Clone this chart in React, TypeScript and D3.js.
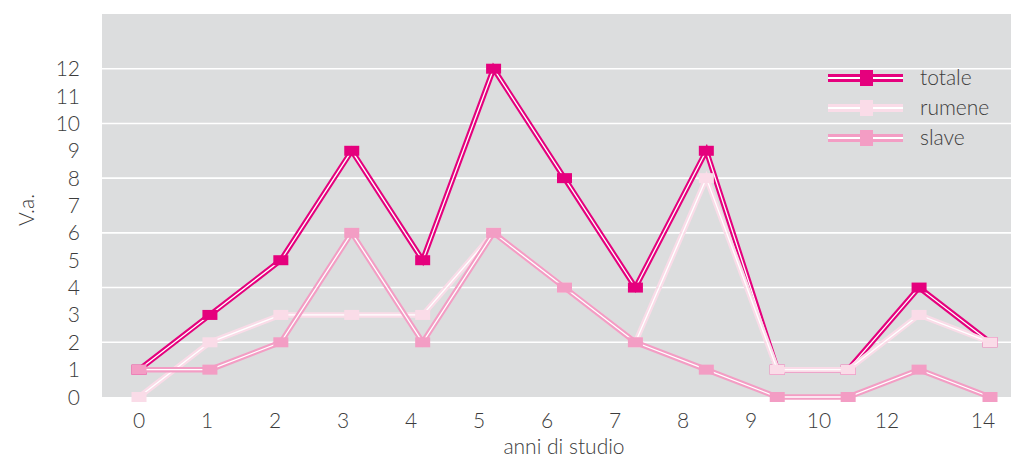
import React from "react";
import * as d3 from "d3";

// Years of study (one point per class on the horizontal axis)
const categories = ["0", "1", "2", "3", "4", "5", "6", "7", "8", "9", "10", "11", "12"];

// Absolute values per series
const totale = [1, 3, 5, 9, 5, 12, 8, 4, 9, 1, 1, 4, 2];
const rumene = [0, 2, 3, 3, 3, 6, 4, 2, 8, 1, 1, 3, 2];
const slave = [1, 1, 2, 6, 2, 6, 4, 2, 1, 0, 0, 1, 0];

// Axis tick labels
const xTickValues = [0, 1, 2, 3, 4, 5, 6, 7, 8, 9, 10, 12, 14];
const yTickValues = [0, 1, 2, 3, 4, 5, 6, 7, 8, 9, 10, 11, 12];
const gridValues = [2, 4, 6, 8, 10, 12];

const seriesNames = ["totale", "rumene", "slave"];
const seriesColors = ["#E5007D", "#FADCE8", "#F39DC4"];
const seriesData = [totale, rumene, slave];

const W = 1011;
const H = 457;
const plot = { left: 102, right: 1011, top: 14, bottom: 397 };
const FONT = "Lato, 'Open Sans', sans-serif";
const TEXT = "#3c3c3c";

export default function App() {
  const x = d3.scalePoint<string>().domain(categories).range([139, 990]);
  const xLabel = d3.scaleLinear().domain([0, 10, 12, 14]).range([139, 819, 887, 983]);
  const y = d3.scaleLinear().domain([0, 14]).range([plot.bottom, plot.top]);

  const line = d3
    .line<number>()
    .x((_, i) => x(categories[i]) as number)
    .y((d) => y(d));

  const legendY = d3.scalePoint<string>().domain(seriesNames).range([78, 138]);

  return (
    <svg
      width={W}
      height={H}
      style={{ position: "absolute", left: 0, top: 0, display: "block" }}
      fontFamily={FONT}
    >
      <rect x={plot.left} y={plot.top} width={plot.right - plot.left} height={plot.bottom - plot.top} fill="#DCDDDE" />
      {gridValues.map((v) => (
        <line key={v} x1={plot.left} x2={plot.right} y1={y(v)} y2={y(v)} stroke="#fff" strokeWidth={1.6} />
      ))}

      {seriesData.map((data, si) => (
        <g key={seriesNames[si]}>
          <path d={line(data) as string} fill="none" stroke={seriesColors[si]} strokeWidth={5.5} strokeLinejoin="miter" />
          <path d={line(data) as string} fill="none" stroke="#fff" strokeWidth={1.3} strokeLinejoin="miter" />
          {data.map((d, i) => (
            <rect
              key={i}
              x={(x(categories[i]) as number) - 7.5}
              y={y(d) - 5}
              width={15}
              height={10}
              fill={seriesColors[si]}
            />
          ))}
        </g>
      ))}

      {/* y axis */}
      {yTickValues.map((v) => (
        <text key={v} x={80} y={y(v)} dy="0.36em" textAnchor="end" fontSize={21} fontWeight={300} fill={TEXT}>
          {v}
        </text>
      ))}
      <text
        transform="translate(34,210) rotate(-90)"
        textAnchor="middle"
        fontSize={21}
        fontWeight={300}
        fill={TEXT}
      >
        V.a.
      </text>

      {/* x axis */}
      {xTickValues.map((v) => (
        <text key={v} x={xLabel(v)} y={428} textAnchor="middle" fontSize={21} fontWeight={300} fill={TEXT}>
          {v}
        </text>
      ))}
      <text x={564} y={454} textAnchor="middle" fontSize={21} fontWeight={300} fill={TEXT}>
        anni di studio
      </text>

      {/* legend */}
      {seriesNames.map((name, si) => {
        const ly = legendY(name) as number;
        return (
          <g key={name}>
            <line x1={828} x2={903} y1={ly} y2={ly} stroke={seriesColors[si]} strokeWidth={8} />
            <line x1={828} x2={903} y1={ly} y2={ly} stroke="#fff" strokeWidth={2.2} />
            <rect x={860} y={ly - 8} width={13} height={16} fill={seriesColors[si]} />
            <text x={920} y={ly} dy="0.33em" fontSize={21} fontWeight={300} fill={TEXT}>
              {name}
            </text>
          </g>
        );
      })}
    </svg>
  );
}
